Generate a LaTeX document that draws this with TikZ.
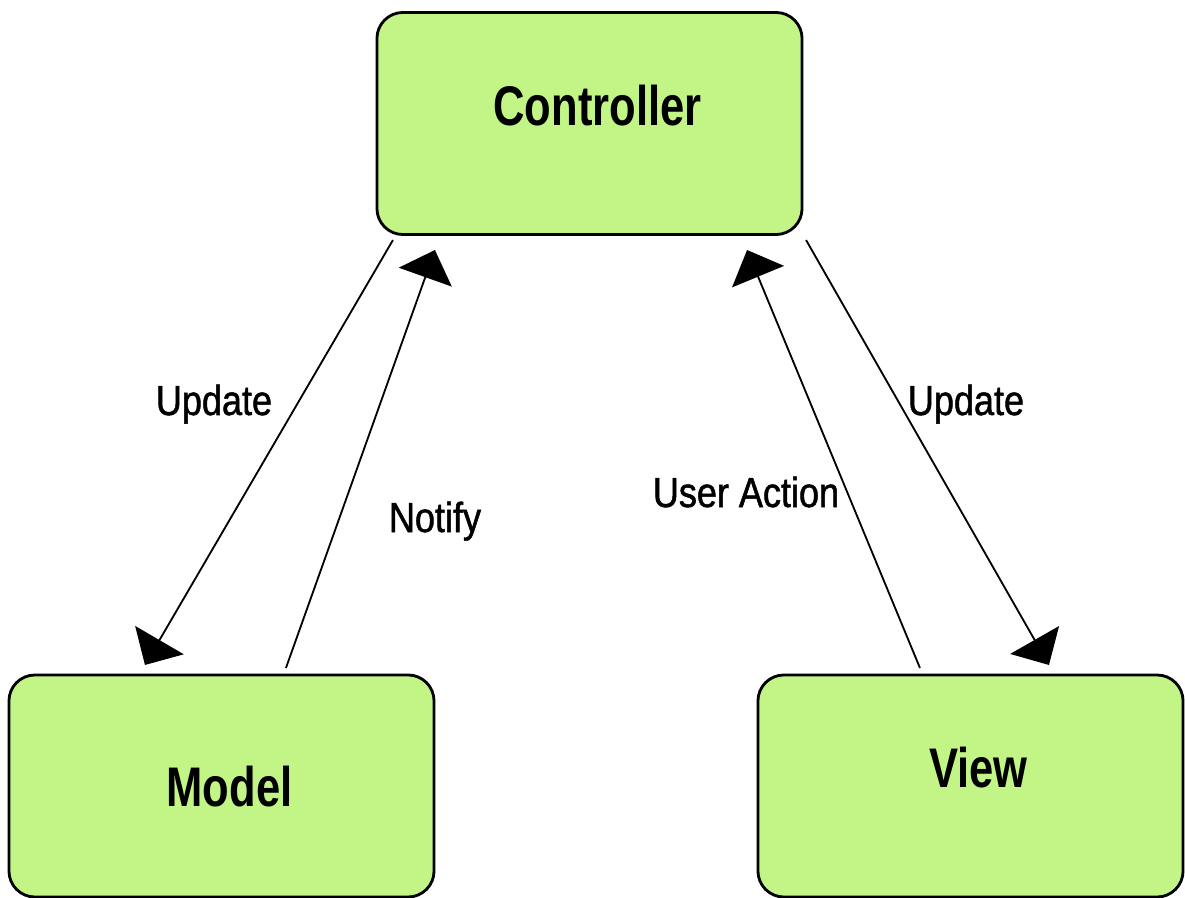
\documentclass[tikz,border=0pt]{standalone}
\usepackage{fontspec}
\usetikzlibrary{arrows.meta,calc}
\newfontfamily\boxfont[FakeStretch=0.78]{Liberation Sans Bold}
\newfontfamily\lblfont[FakeStretch=0.86,FakeBold=1.2]{Liberation Sans}
\definecolor{boxgreen}{RGB}{194,245,134}
\tikzset{
    mvcbox/.style={draw=black,line width=2pt,fill=boxgreen,rounded corners=0.65cm,
        minimum width=10.625cm,minimum height=5.55cm,outer sep=0pt,inner sep=0pt,
        font=\boxfont\fontsize{39.7}{44}\selectfont},
    arr/.style={line width=1.3pt,-{Triangle[length=0.72cm,width=1.4cm]}},
    lbl/.style={anchor=base,inner sep=0pt,font=\lblfont\fontsize{29.8}{34}\selectfont}
}
\begin{document}
\begin{tikzpicture}[x=0.025cm,y=-0.025cm]
        \useasboundingbox (0,0) rectangle (1185,898);
        %% Boxes
        \node[mvcbox,text depth=0.92cm] (ctrl) at (589.5,123.5) {\hspace*{0.4cm}Controller};
        \node[mvcbox,text depth=0pt] (model) at (221.5,786) {\hspace*{0.4cm}Model};
        \node[mvcbox,text depth=0.92cm] (view) at (970.5,786) {\hspace*{0.4cm}View};
        %% Connectors
        \draw[arr] ($(ctrl.south west)+(16,5.5)$) -- ($(model.north west)+(136,-10)$);
        \draw[arr] ($(model.north west)+(277,-7)$) -- ($(ctrl.south west)+(58,15.5)$);
        \draw[arr] ($(view.north west)+(162,-7)$) -- ($(ctrl.south east)+(-55,15.5)$);
        \draw[arr] ($(ctrl.south east)+(4,5.5)$) -- ($(view.north west)+(291,-10)$);
        %% Labels
        \foreach \x/\y/\t [count=\i] in {214/415/Update,435/532/Notify,746/507/User Action,966/415/Update}
            \node[lbl] (lbl\i) at (\x,\y) {\t};
    \end{tikzpicture}
\end{document}
